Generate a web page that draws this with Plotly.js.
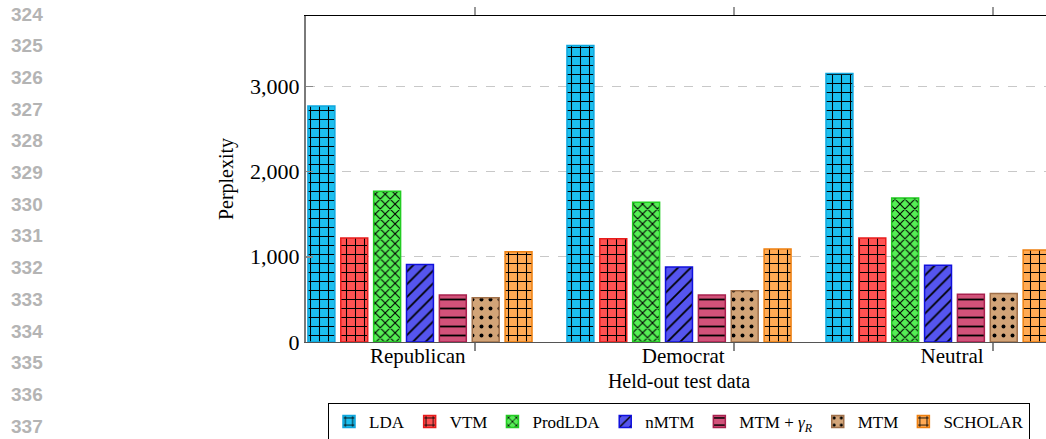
<!DOCTYPE html>
<html>
<head>
<meta charset="utf-8">
<script src="https://cdn.plot.ly/plotly-3.0.1.min.js"></script>
<style>
html,body{margin:0;padding:0;overflow:hidden;background:#fff;}
#chart{width:1060px;height:439px;}
</style>
</head>
<body>
<div id="chart"></div>
<script>
// ---- data ----
const categories = ["Republican", "Democrat", "Neutral"];
const seriesNames = ["LDA", "VTM", "ProdLDA", "nMTM", "MTM + <i>γ<sub>R</sub></i>", "MTM", "SCHOLAR"];
const ldaValues      = [2770, 3480, 3150];
const vtmValues      = [1220, 1210, 1220];
const prodldaValues  = [1770, 1640, 1690];
const nmtmValues     = [910, 880, 900];
const mtmGammaValues = [550, 550, 560];
const mtmValues      = [520, 600, 570];
const scholarValues  = [1060, 1090, 1080];
const yTickValues = [0, 1000, 2000, 3000];
const lineNumbers = ["324","325","326","327","328","329","330","331","332","333","334","335","336","337"];

// ---- styles ----
const allValues = [ldaValues, vtmValues, prodldaValues, nmtmValues, mtmGammaValues, mtmValues, scholarValues];
const styles = [
  {fill: "#1cbfef", line: "#0fa6dd", shape: "+", size: 9, sol: 0.22},
  {fill: "#ff5252", line: "#e81c1c", shape: "+", size: 9, sol: 0.22},
  {fill: "#55ee55", line: "#22cc22", shape: "x", size: 7, sol: 0.28},
  {fill: "#5555ee", line: "#1010dd", shape: "/", size: 9, sol: 0.2},
  {fill: "#d2527a", line: "#a8204e", shape: "-", size: 9, sol: 0.2},
  {fill: "#d2a478", line: "#a0704a", shape: ".", size: 9, sol: 0.15},
  {fill: "#ffaa55", line: "#ee8010", shape: "+", size: 9, sol: 0.22}
];

const traces = allValues.map((vals, i) => ({
  type: "bar",
  name: seriesNames[i],
  x: categories,
  y: vals,
  xaxis: "x",
  yaxis: "y",
  marker: {
    color: styles[i].fill,
    line: {color: styles[i].line, width: 1.5},
    pattern: {shape: styles[i].shape, fillmode: "replace", bgcolor: styles[i].fill,
              fgcolor: "#000", size: styles[i].size, solidity: styles[i].sol}
  },
  hoverinfo: "skip"
}));

// invisible traces to activate the overlay tick axes
traces.push({type: "scatter", x: [0], y: [0], xaxis: "x2", yaxis: "y", mode: "markers",
  marker: {opacity: 0}, showlegend: false, hoverinfo: "skip"});
traces.push({type: "scatter", x: [0], y: [0], xaxis: "x3", yaxis: "y", mode: "markers",
  marker: {opacity: 0}, showlegend: false, hoverinfo: "skip"});

// ---- layout geometry ----
const W = 1060, H = 439;
const L = 306, R = 8, T = 16, B = 97;
const plotW = W - L - R, plotH = H - T - B;
const xRange = [-0.44, 2.44];
const tickOffset = 0.212;
const tickPositions = categories.map((c, i) => i + tickOffset);

const serif = "Liberation Serif, Times New Roman, serif";

const annotations = lineNumbers.map((t, i) => ({
  text: "<b>" + t + "</b>", xref: "paper", yref: "paper",
  x: (45 - L) / plotW, y: (H - B - (14 + 31.7 * i)) / plotH,
  xanchor: "right", yanchor: "middle", showarrow: false,
  font: {family: "Liberation Sans, Arial, sans-serif", size: 19, color: "#b4b4b4"}
}));

const layout = {
  width: W, height: H,
  margin: {l: L, r: R, t: T, b: B, pad: 0, autoexpand: false},
  paper_bgcolor: "#fff", plot_bgcolor: "#fff",
  barmode: "group", bargap: 0.112, bargroupgap: 0.18,
  showlegend: true,
  font: {family: serif, size: 20, color: "#000"},
  xaxis: {type: "category", range: xRange, showline: false, showgrid: false,
          showticklabels: false, ticks: "", zeroline: false, fixedrange: true},
  xaxis2: {type: "linear", overlaying: "x", anchor: "y", side: "bottom", range: xRange,
           tickmode: "array", tickvals: tickPositions, ticktext: categories,
           ticks: "outside", ticklen: 8, tickcolor: "#888", tickwidth: 1.5,
           ticklabelposition: "outside left", ticklabelshift: -8, ticklabelstandoff: -5,
           showline: true, linecolor: "#555", linewidth: 1.2, showgrid: false, zeroline: false,
           tickfont: {family: serif, size: 21, color: "#000"},
           title: {text: "Held-out test data", font: {family: serif, size: 20, color: "#000"}, standoff: 6}},
  xaxis3: {type: "linear", overlaying: "x", anchor: "y", side: "top", range: xRange,
           tickmode: "array", tickvals: tickPositions, showticklabels: false,
           ticks: "outside", ticklen: 8, tickcolor: "#999", tickwidth: 1.5,
           showline: true, linecolor: "#000", linewidth: 1.2, showgrid: false, zeroline: false},
  yaxis: {range: [0, 3825], tickmode: "array", tickvals: yTickValues, tickformat: ",d",
          ticks: "inside", ticklen: 7, tickcolor: "#888", tickwidth: 1.5,
          showline: true, linecolor: "#7a7a7a", linewidth: 2,
          showgrid: true, gridcolor: "#c8c8c8", griddash: "dash", gridwidth: 1,
          zeroline: false,
          tickfont: {family: serif, size: 22, color: "#000"},
          title: {text: "Perplexity", font: {family: serif, size: 20, color: "#000"}, standoff: 11}},
  legend: {orientation: "h", x: 0.5, xanchor: "center", y: -(403 - (H - B)) / plotH, yanchor: "top",
           bordercolor: "#000", borderwidth: 1, bgcolor: "#fff",
           font: {family: serif, size: 17, color: "#000"},
           itemwidth: 30, tracegroupgap: 0, traceorder: "normal"},
  annotations: annotations
};

Plotly.newPlot("chart", traces, layout, {staticPlot: true, displayModeBar: false});
</script>
</body>
</html>
